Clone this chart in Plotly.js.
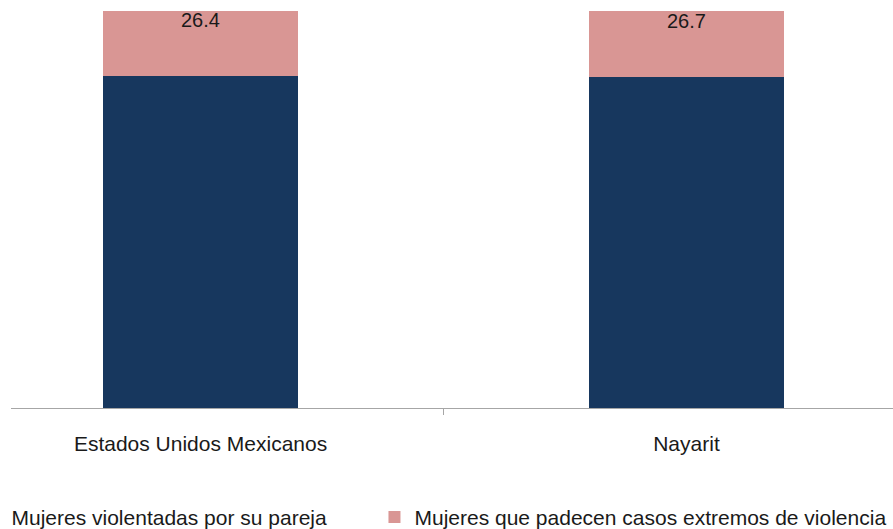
<!DOCTYPE html>
<html>
<head>
<meta charset="utf-8">
<script src="https://cdn.plot.ly/plotly-3.0.1.min.js"></script>
<style>html,body{margin:0;padding:0;background:#fff;}</style>
</head>
<body>
<div id="chart" style="width:893px;height:529px;"></div>
<script>
const categories = ["Estados Unidos Mexicanos", "Nayarit"];
const seriesNames = ["Mujeres violentadas por su pareja", "Mujeres que padecen casos extremos de violencia"];
const violentadas = [73.6, 73.3];
const extremos = [26.4, 26.7];
const extremosLabels = ["26.4", "26.7"];

const FONT = "Arial, 'Liberation Sans', sans-serif";

// label positions: middle of the top (pink) segment, from the data
const labelY = violentadas.map((v, i) => v + extremos[i] / 2);

const traces = [
  {
    type: "bar",
    name: seriesNames[0],
    x: categories,
    y: violentadas,
    width: 0.401,
    marker: {color: "#17375e", line: {width: 0}},
    legend: "legend",
    hoverinfo: "skip"
  },
  {
    type: "bar",
    name: seriesNames[1],
    x: categories,
    y: extremos,
    width: 0.401,
    marker: {color: "#d99694", line: {width: 0}},
    legend: "legend2",
    hoverinfo: "skip"
  }
];

const annotations = categories.map((c, i) => ({
  x: c,
  y: labelY[i],
  xref: "x",
  yref: "y",
  text: extremosLabels[i],
  showarrow: false,
  yshift: -4,
  font: {family: FONT, size: 20, color: "#1a1a1a"}
}));

const legendCommon = {
  orientation: "h",
  xanchor: "left",
  y: -0.224,
  yanchor: "top",
  font: {family: FONT, size: 21, color: "#1a1a1a"},
  bgcolor: "rgba(0,0,0,0)"
};

const layout = {
  width: 893,
  height: 529,
  barmode: "stack",
  paper_bgcolor: "#ffffff",
  plot_bgcolor: "#ffffff",
  margin: {l: 11, r: 0, t: 11, b: 121, autoexpand: false},
  font: {family: FONT, size: 21, color: "#1a1a1a"},
  showlegend: true,
  legend: Object.assign({}, legendCommon, {x: -0.0448}),
  legend2: Object.assign({}, legendCommon, {x: 0.4121}),
  annotations: annotations,
  xaxis: {
    type: "category",
    range: [-0.39, 1.425],
    showline: true,
    linecolor: "#a6a6a6",
    linewidth: 1,
    showgrid: false,
    zeroline: false,
    ticks: "outside",
    tickson: "boundaries",
    ticklen: 6,
    tickcolor: "#a6a6a6",
    tickwidth: 1,
    ticklabelstandoff: 17,
    tickfont: {family: FONT, size: 21, color: "#1a1a1a"}
  },
  yaxis: {
    range: [0, 87.9],
    visible: false,
    showgrid: false,
    zeroline: false
  }
};

Plotly.newPlot("chart", traces, layout, {displayModeBar: false, staticPlot: true});
</script>
</body>
</html>
